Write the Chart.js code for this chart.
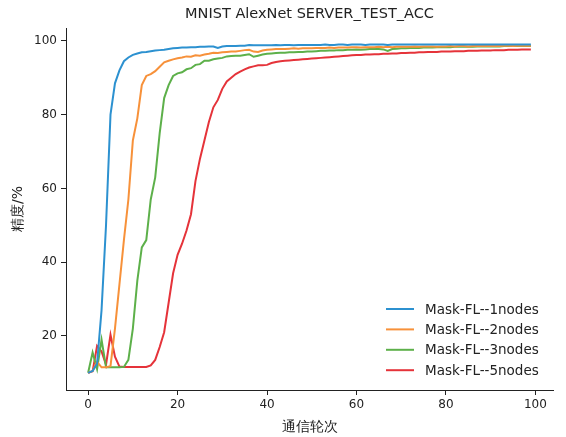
<!DOCTYPE html>
<html>
<head>
<meta charset="utf-8">
<script src="https://cdn.jsdelivr.net/npm/chart.js@4"></script>
<style>
  html, body { margin: 0; padding: 0; background: #ffffff; }
  #chart { display: block; }
</style>
</head>
<body>
<canvas id="chart" width="566" height="437"></canvas>
<script>
// communication rounds 0..99
var rounds = [];
for (var r = 0; r < 100; r++) rounds.push(r);

var seriesNames = ['Mask-FL--1nodes', 'Mask-FL--2nodes', 'Mask-FL--3nodes', 'Mask-FL--5nodes'];
var seriesColors = ['#2c91d0', '#f7913a', '#5db04a', '#e5333a'];

var acc1 = [
  10, 10.5, 12.5, 27, 50, 80, 88.5, 92, 94.5, 95.5,
  96.2, 96.6, 96.9, 97.0, 97.2, 97.4, 97.5, 97.6, 97.8, 98.0,
  98.1, 98.2, 98.2, 98.3, 98.3, 98.4, 98.4, 98.5, 98.5, 98.1,
  98.5, 98.6, 98.6, 98.6, 98.7, 98.7, 98.9, 98.8, 98.8, 98.8,
  98.8, 98.8, 98.9, 98.8, 98.9, 98.9, 98.8, 98.9, 98.9, 98.9,
  98.9, 98.9, 98.9, 99.0, 98.9, 98.9, 99.0, 99.0, 98.9, 99.0,
  99.0, 99.0, 98.9, 99.0, 99.0, 99.0, 99.0, 98.9, 99.0, 99.0,
  99.0, 99.0, 99.0, 99.0, 99.0, 99.0, 99.0, 99.0, 99.0, 99.0,
  99.0, 99.0, 99.0, 99.0, 99.0, 99.0, 99.0, 99.0, 99.0, 99.0,
  99.0, 99.0, 99.0, 99.0, 99.0, 99.0, 99.0, 99.0, 99.0, 99.0
];
var acc2 = [
  10, 10.5, 13, 11.5, 11.5, 11.8, 22, 34, 46, 57,
  73, 79, 88, 90.5, 91, 91.8, 93, 94.2, 94.6, 95.0,
  95.3, 95.5, 95.8, 95.7, 96.1, 96.0, 96.3, 96.5, 96.8, 96.7,
  96.9, 97.0, 97.1, 97.1, 97.3, 97.5, 97.6, 97.1, 97.0, 97.4,
  97.6, 97.7, 97.8, 97.8, 97.8, 97.9, 98.0, 97.9, 98.0, 98.0,
  98.0, 98.1, 98.1, 98.1, 98.2, 98.1, 98.2, 98.2, 98.2, 98.3,
  98.3, 98.2, 98.3, 98.3, 98.3, 98.4, 98.3, 98.4, 98.3, 98.4,
  98.4, 98.4, 98.4, 98.5, 98.4, 98.5, 98.5, 98.5, 98.4, 98.5,
  98.5, 98.6, 98.5, 98.6, 98.6, 98.5, 98.6, 98.6, 98.6, 98.6,
  98.6, 98.7, 98.6, 98.7, 98.7, 98.6, 98.7, 98.7, 98.7, 98.7
];
var acc3 = [
  10, 15.5, 11, 19, 11.5, 11.5, 11.5, 11.5, 11.6, 13.5,
  22, 35, 44, 46, 57, 63, 75, 84.5, 88, 90.5,
  91.2, 91.5, 92.3, 92.6, 93.5, 93.7, 94.6, 94.6, 95.0, 95.2,
  95.4, 95.8, 95.9, 96.0, 96.0, 96.2, 96.4, 95.7, 96.0, 96.3,
  96.5, 96.6, 96.7, 96.8, 96.8, 96.9, 96.9, 97.0, 97.0, 97.1,
  97.1, 97.2, 97.3, 97.3, 97.4, 97.4, 97.5, 97.5, 97.6, 97.6,
  97.7, 97.6, 97.7, 97.8, 97.8, 97.8, 97.7, 97.3, 97.8, 97.9,
  98.0, 98.0, 98.1, 98.1, 98.1, 98.2, 98.2, 98.2, 98.3, 98.3,
  98.3, 98.3, 98.4, 98.4, 98.4, 98.4, 98.4, 98.5, 98.5, 98.5,
  98.5, 98.5, 98.5, 98.6, 98.6, 98.6, 98.6, 98.6, 98.6, 98.6
];
var acc5 = [
  10, 10.4, 17.3, 15.8, 12.2, 20.3, 14.4, 11.7, 11.6, 11.6,
  11.6, 11.6, 11.6, 11.6, 12, 13.5, 17, 21, 29, 37,
  42, 45, 48.6, 53, 62, 68, 73, 78, 82, 84,
  87, 89, 90, 91, 91.7, 92.3, 92.8, 93.1, 93.4, 93.4,
  93.5, 94.0, 94.3, 94.5, 94.6, 94.7, 94.8, 94.9, 95.0, 95.1,
  95.2, 95.3, 95.4, 95.5, 95.6, 95.7, 95.8, 95.9, 96.0, 96.1,
  96.2, 96.2, 96.3, 96.3, 96.4, 96.4, 96.5, 96.5, 96.6, 96.6,
  96.7, 96.7, 96.8, 96.8, 96.9, 96.9, 97.0, 97.0, 97.0, 97.1,
  97.1, 97.1, 97.2, 97.2, 97.2, 97.3, 97.3, 97.3, 97.4, 97.4,
  97.4, 97.5, 97.5, 97.5, 97.6, 97.6, 97.6, 97.7, 97.7, 97.7
];

var xTicks = [0, 20, 40, 60, 80, 100];
var yTicks = [20, 40, 60, 80, 100];

var titleText = 'MNIST AlexNet SERVER_TEST_ACC';
var xTitle = '通信轮次';
var yTitle = '精度/%';

var allSeries = [acc1, acc2, acc3, acc5];
var datasets = allSeries.map(function (vals, k) {
  return {
    label: seriesNames[k],
    data: vals.map(function (v, i) { return { x: rounds[i], y: v }; }),
    borderColor: seriesColors[k],
    backgroundColor: seriesColors[k],
    borderWidth: 2,
    pointRadius: 0,
    tension: 0,
    fill: false
  };
});

var font = 'DejaVu Sans';
var textColor = '#222222';

// white background, title and the legend box in the lower right of the axes
var decorations = {
  id: 'decorations',
  beforeDraw: function (chart) {
    var ctx = chart.ctx;
    ctx.save();
    ctx.fillStyle = '#ffffff';
    ctx.fillRect(0, 0, chart.width, chart.height);
    ctx.restore();
  },
  afterDraw: function (chart) {
    var ctx = chart.ctx;
    var area = chart.chartArea;
    ctx.save();
    ctx.fillStyle = textColor;
    ctx.font = '14.5px "' + font + '"';
    ctx.textAlign = 'center';
    ctx.textBaseline = 'middle';
    ctx.fillText(titleText, (area.left + area.right) / 2, 14);

    ctx.font = '13.5px "' + font + '"';
    ctx.textAlign = 'left';
    chart.data.datasets.forEach(function (ds, k) {
      var y = 309 + k * 20.4;
      ctx.strokeStyle = ds.borderColor;
      ctx.lineWidth = 2;
      ctx.beginPath();
      ctx.moveTo(386, y);
      ctx.lineTo(414, y);
      ctx.stroke();
      ctx.fillStyle = textColor;
      ctx.fillText(ds.label, 425, y + 1);
    });
    ctx.restore();
  }
};

new Chart(document.getElementById('chart'), {
  type: 'line',
  data: { datasets: datasets },
  plugins: [decorations],
  options: {
    responsive: false,
    animation: false,
    devicePixelRatio: 1,
    layout: { padding: { left: 0, right: 13, top: 28, bottom: 0 } },
    plugins: {
      legend: { display: false },
      title: { display: false },
      tooltip: { enabled: false }
    },
    scales: {
      x: {
        type: 'linear',
        min: -4.95,
        max: 103.95,
        afterFit: function (s) { s.height = 47; },
        afterBuildTicks: function (s) { s.ticks = xTicks.map(function (v) { return { value: v }; }); },
        grid: { drawOnChartArea: false, drawTicks: true, tickLength: 5, color: '#222' },
        border: { display: true, color: '#222', width: 1 },
        ticks: { color: textColor, font: { family: font, size: 12 }, padding: 3, maxRotation: 0 },
        title: { display: true, text: xTitle, color: textColor, font: { family: font, size: 14 }, padding: { top: 0, bottom: 1 } }
      },
      y: {
        type: 'linear',
        min: 5.34,
        max: 103.5,
        afterFit: function (s) { s.width = 66; },
        afterBuildTicks: function (s) { s.ticks = yTicks.map(function (v) { return { value: v }; }); },
        grid: { drawOnChartArea: false, drawTicks: true, tickLength: 5, color: '#222' },
        border: { display: true, color: '#222', width: 1 },
        ticks: { color: textColor, font: { family: font, size: 12 }, padding: 4 },
        title: { display: true, text: yTitle, color: textColor, font: { family: font, size: 14 }, padding: { top: 10, bottom: 0 } }
      }
    }
  }
});
</script>
</body>
</html>
